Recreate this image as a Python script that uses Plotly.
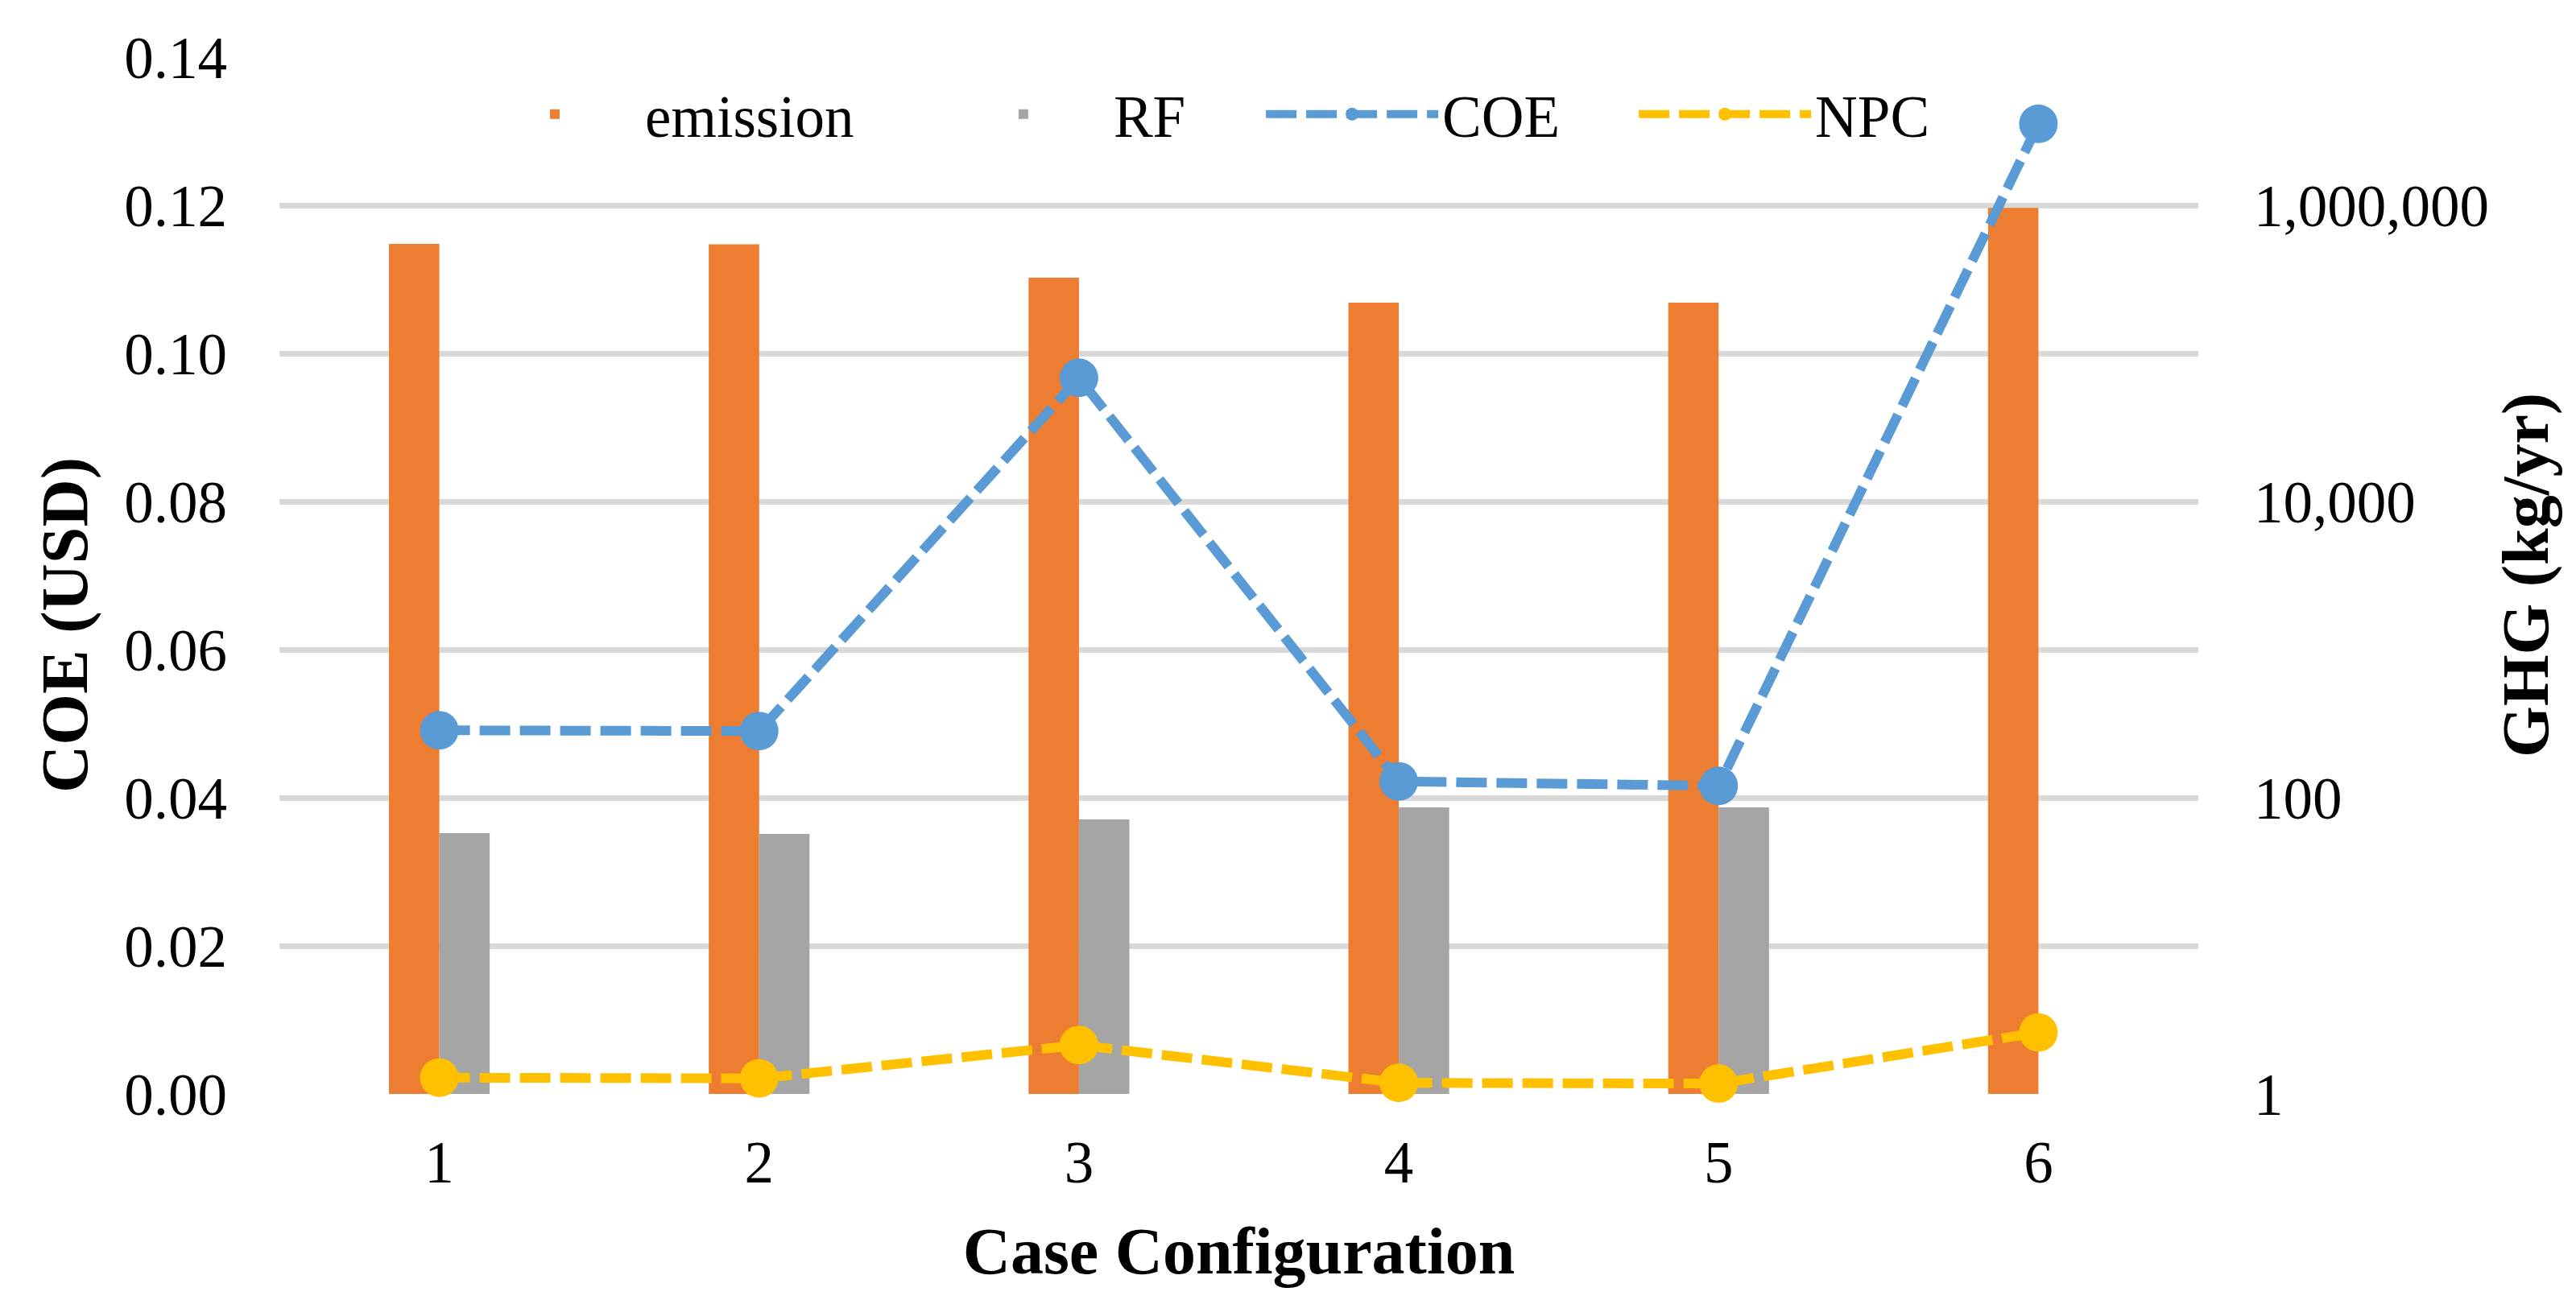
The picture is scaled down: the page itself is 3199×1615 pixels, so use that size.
import plotly.graph_objects as go

cases = ["1", "2", "3", "4", "5", "6"]
emission = [548000, 545000, 324000, 220000, 220000, 960000]   # kg/yr (right, log axis)
rf = [57.7, 56.9, 71.3, 86.1, 86.1, None]                      # right, log axis
coe = [0.0491, 0.0490, 0.0967, 0.0422, 0.0416, 0.1310]         # USD (left axis)
npc = [0.0022, 0.0021, 0.0066, 0.0015, 0.0014, 0.0083]         # left axis

left_ticks = [0.00, 0.02, 0.04, 0.06, 0.08, 0.10, 0.12, 0.14]
right_tickvals = [1, 10, 100, 1000, 10000, 100000, 1000000, 10000000]
right_ticktext = ["1", "", "100", "", "10,000", "", "1,000,000", ""]

FONT = "Liberation Serif"
C_EM = "#ED7D31"
C_RF = "#A5A5A5"
C_COE = "#5B9BD5"
C_NPC = "#FFC000"
GRID = "#D9D9D9"
TICK = 73
TITLE = 82

fig = go.Figure()
fig.add_trace(go.Bar(x=cases, y=emission, name="emission", marker_color=C_EM,
                     marker_line_width=0, yaxis="y", legend="legend"))
fig.add_trace(go.Bar(x=cases, y=rf, name="RF", marker_color=C_RF,
                     marker_line_width=0, yaxis="y", legend="legend2"))
fig.add_trace(go.Scatter(x=cases, y=coe, name="COE", mode="lines+markers",
                         line=dict(color=C_COE, width=12, dash="38px,12px"),
                         marker=dict(color=C_COE, size=48), cliponaxis=False,
                         yaxis="y2", legend="legend3"))
fig.add_trace(go.Scatter(x=cases, y=npc, name="NPC", mode="lines+markers",
                         line=dict(color=C_NPC, width=12, dash="38px,12px"),
                         marker=dict(color=C_NPC, size=48), cliponaxis=False,
                         yaxis="y2", legend="legend4"))


def leg(x):
    return dict(orientation="h", x=x, y=0.945, xanchor="left", yanchor="middle",
                font=dict(family=FONT, size=TICK, color="black"),
                bgcolor="rgba(0,0,0,0)", itemwidth=214)


fig.update_layout(
    width=3199, height=1615,
    margin=dict(l=339, r=477, t=63, b=264, autoexpand=False),
    paper_bgcolor="white", plot_bgcolor="white",
    font=dict(family=FONT, size=TICK, color="black"),
    barmode="group", bargap=0.685, bargroupgap=0,
    showlegend=True,
    legend=leg(0.0965), legend2=leg(0.3407), legend3=leg(0.5120), legend4=leg(0.7063),
    xaxis=dict(type="category", showgrid=False, zeroline=False, showline=False,
               ticks="", ticklabelstandoff=36,
               tickfont=dict(family=FONT, size=TICK, color="black"),
               title=dict(text="<b>Case Configuration</b>", standoff=40,
                          font=dict(family=FONT, size=TITLE, color="black"))),
    yaxis=dict(type="log", range=[0, 7], side="right",
               tickvals=right_tickvals, ticktext=right_ticktext,
               showgrid=True, gridcolor=GRID, gridwidth=7,
               zeroline=False, showline=False, ticks="", ticklabelstandoff=68,
               tickfont=dict(family=FONT, size=TICK, color="black")),
    yaxis2=dict(range=[0, 0.14], tickvals=left_ticks, tickformat=".2f",
                overlaying="y", side="left",
                showgrid=False, zeroline=False, showline=False, ticks="",
                ticklabelstandoff=64,
                tickfont=dict(family=FONT, size=TICK, color="black")),
    annotations=[
        dict(text="<b>COE (USD)</b>", xref="paper", yref="paper",
             x=-0.1116, y=0.452, xanchor="center", yanchor="middle",
             textangle=-90, showarrow=False,
             font=dict(family=FONT, size=TITLE, color="black")),
        dict(text="<b>GHG (kg/yr)</b>", xref="paper", yref="paper",
             x=1.1704, y=0.50, xanchor="center", yanchor="middle",
             textangle=-90, showarrow=False,
             font=dict(family=FONT, size=TITLE, color="black")),
    ],
)

fig.write_html("out.html")
